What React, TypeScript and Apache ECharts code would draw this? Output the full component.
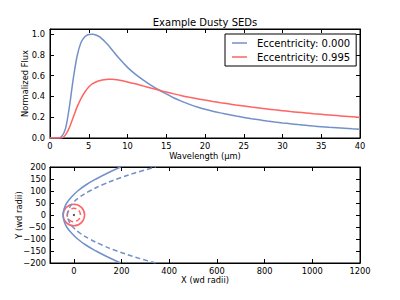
import React, { useEffect, useRef } from "react";
import * as echarts from "echarts";

const wavelength = [0, 0.5, 1, 1.5, 2, 2.5, 3, 3.5, 4, 4.5, 5, 5.5, 6, 6.5, 7, 7.5, 8, 9, 10, 11, 12, 13, 14, 15, 16, 17, 18, 19, 20, 21, 22, 23, 24, 25, 26, 27, 28, 29, 30, 31, 32, 33, 34, 35, 36, 37, 38, 39, 40];
const fluxE0 = [0, 0, 0, 0.015, 0.09, 0.3, 0.57, 0.79, 0.92, 0.975, 0.997, 1.0, 0.99, 0.97, 0.935, 0.895, 0.85, 0.76, 0.68, 0.615, 0.56, 0.51, 0.465, 0.425, 0.385, 0.353, 0.324, 0.298, 0.276, 0.258, 0.242, 0.227, 0.212, 0.198, 0.186, 0.175, 0.164, 0.154, 0.145, 0.137, 0.129, 0.122, 0.115, 0.109, 0.103, 0.098, 0.093, 0.088, 0.084];
const fluxE995 = [0, 0, 0, 0, 0.03, 0.1, 0.2, 0.3, 0.38, 0.443, 0.492, 0.523, 0.542, 0.554, 0.561, 0.565, 0.566, 0.556, 0.54, 0.522, 0.502, 0.482, 0.463, 0.443, 0.425, 0.408, 0.393, 0.379, 0.365, 0.352, 0.34, 0.329, 0.318, 0.308, 0.298, 0.289, 0.28, 0.271, 0.263, 0.255, 0.248, 0.241, 0.234, 0.228, 0.222, 0.216, 0.21, 0.204, 0.198];

const orbitY = [-200, -175, -150, -125, -100, -75, -50, -25, 0, 25, 50, 75, 100, 125, 150, 175, 200];
const orbitSolidX = [196, 142, 93, 50, 16, -10, -30, -41, -45, -41, -30, -10, 16, 50, 93, 142, 196];
const orbitDashedX = [343, 256, 181, 118, 66, 25, -4, -21, -27, -21, -4, 25, 66, 118, 181, 256, 343];
// circles: [centerX, centerY, radius]
const circleSolid = [0, 0, 45];
const circleDashed = [0, 0, 28];

const topYTicks = [0, 0.2, 0.4, 0.6, 0.8, 1.0];
const botXTicks = [0, 200, 400, 600, 800, 1000, 1200];

const BLUE = "#7390c8";
const RED = "#ff6363";
const FONT = "DejaVu Sans";

export default function App() {
  const ref = useRef<HTMLDivElement>(null);
  useEffect(() => {
    if (!ref.current) return;
    const chart = echarts.init(ref.current, null, { renderer: "svg" });
    const tickStyle = { show: true, inside: true, length: 4, lineStyle: { color: "#000", width: 1 } };
    const lineAxis = { show: true, onZero: false, lineStyle: { color: "#000", width: 1 } };
    const lbl = { color: "#000", fontSize: 8.3, fontFamily: FONT };
    const nameStyle = { color: "#000", fontSize: 8.3, fontFamily: FONT };
    const minus = (v: number) => String(v).replace("-", "\u2212");

    const circleItem = (params: any, api: any) => {
      const c = api.coord([api.value(0), api.value(1)]);
      const s = api.size([api.value(2), api.value(2)]);
      const dashed = api.value(3) === 1;
      return {
        type: "ellipse",
        shape: { cx: c[0], cy: c[1], rx: s[0], ry: s[1] },
        style: { fill: "none", stroke: RED, lineWidth: 1.5, lineDash: dashed ? [5, 3] : null },
      };
    };

    chart.setOption({
      animation: false,
      textStyle: { fontFamily: FONT },
      graphic: [
        {
          type: "text",
          x: 205,
          y: 22,
          style: { text: "Example Dusty SEDs", fontSize: 10, fontFamily: FONT, fill: "#000", textAlign: "center", textVerticalAlign: "middle" },
        },
      ],
      legend: {
        data: ["Eccentricity: 0.000", "Eccentricity: 0.995"],
        orient: "vertical",
        left: 225,
        top: 34,
        width: 130,
        padding: [3, 6, 3, 7],
        borderColor: "#000",
        borderWidth: 1,
        backgroundColor: "#fff",
        icon: "rect",
        itemWidth: 15,
        itemHeight: 1.5,
        itemGap: 2,
        textStyle: { fontSize: 10, fontFamily: FONT, color: "#000", lineHeight: 12, padding: [0, 0, 0, 5] },
      },
      grid: [
        { left: 50, top: 29, width: 310, height: 109, show: true, borderColor: "#000", borderWidth: 1 },
        { left: 50, top: 167, width: 310, height: 96, show: true, borderColor: "#000", borderWidth: 1 },
      ],
      xAxis: [
        {
          type: "value", gridIndex: 0, min: 0, max: 40, interval: 5,
          axisLine: lineAxis, axisTick: tickStyle, splitLine: { show: false },
          axisLabel: { ...lbl, margin: 4 },
          name: "Wavelength (\u03bcm)", nameLocation: "middle", nameGap: 14, nameTextStyle: nameStyle, nameMoveOverlap: false,
        },
        {
          type: "value", gridIndex: 0, position: "top", min: 0, max: 40, interval: 5,
          axisLine: lineAxis, axisTick: tickStyle, splitLine: { show: false }, axisLabel: { show: false },
        },
        {
          type: "value", gridIndex: 1, min: -100, max: 1200,
          axisLine: lineAxis, axisTick: { ...tickStyle, customValues: botXTicks }, splitLine: { show: false },
          axisLabel: { ...lbl, margin: 4, customValues: botXTicks, formatter: (v: number) => String(v) },
          name: "X (wd radii)", nameLocation: "middle", nameGap: 13, nameTextStyle: nameStyle, nameMoveOverlap: false,
        },
        {
          type: "value", gridIndex: 1, position: "top", min: -100, max: 1200,
          axisLine: lineAxis, axisTick: { ...tickStyle, customValues: botXTicks }, splitLine: { show: false },
          axisLabel: { show: false, customValues: botXTicks },
        },
      ],
      yAxis: [
        {
          type: "value", gridIndex: 0, min: 0, max: 1.05,
          axisLine: lineAxis, axisTick: { ...tickStyle, customValues: topYTicks }, splitLine: { show: false },
          axisLabel: { ...lbl, margin: 5, customValues: topYTicks, formatter: (v: number) => v.toFixed(1) },
          name: "Normalized Flux", nameLocation: "middle", nameGap: 21, nameTextStyle: nameStyle, nameMoveOverlap: false,
        },
        {
          type: "value", gridIndex: 0, position: "right", min: 0, max: 1.05,
          axisLine: lineAxis, axisTick: { ...tickStyle, customValues: topYTicks }, splitLine: { show: false },
          axisLabel: { show: false, customValues: topYTicks },
        },
        {
          type: "value", gridIndex: 1, min: -200, max: 200, interval: 50,
          axisLine: lineAxis, axisTick: tickStyle, splitLine: { show: false },
          axisLabel: { ...lbl, margin: 4, formatter: minus },
          name: "Y (wd radii)", nameLocation: "middle", nameGap: 27, nameTextStyle: nameStyle, nameMoveOverlap: false,
        },
        {
          type: "value", gridIndex: 1, position: "right", min: -200, max: 200, interval: 50,
          axisLine: lineAxis, axisTick: tickStyle, splitLine: { show: false }, axisLabel: { show: false },
        },
      ],
      series: [
        {
          name: "Eccentricity: 0.000", type: "line", xAxisIndex: 0, yAxisIndex: 0,
          data: wavelength.map((w, i) => [w, fluxE0[i]]), smooth: 0.3, symbol: "none", clip: true,
          lineStyle: { color: BLUE, width: 1.5 }, itemStyle: { color: BLUE },
        },
        {
          name: "Eccentricity: 0.995", type: "line", xAxisIndex: 0, yAxisIndex: 0,
          data: wavelength.map((w, i) => [w, fluxE995[i]]), smooth: 0.3, symbol: "none", clip: true,
          lineStyle: { color: RED, width: 1.5 }, itemStyle: { color: RED },
        },
        {
          name: "Orbit e=0.000", type: "line", xAxisIndex: 2, yAxisIndex: 2,
          data: orbitY.map((y, i) => [orbitSolidX[i], y]), smooth: 0.4, symbol: "none",
          lineStyle: { color: BLUE, width: 1.5 },
        },
        {
          name: "Orbit e=0.000 dashed", type: "line", xAxisIndex: 2, yAxisIndex: 2,
          data: orbitY.map((y, i) => [orbitDashedX[i], y]), smooth: 0.4, symbol: "none",
          lineStyle: { color: BLUE, width: 1.5, type: [5, 3] },
        },
        {
          name: "Dust circles", type: "custom", xAxisIndex: 2, yAxisIndex: 2,
          renderItem: circleItem,
          data: [
            [...circleSolid, 0],
            [...circleDashed, 1],
          ],
          clip: true,
        },
        {
          name: "Star", type: "scatter", xAxisIndex: 2, yAxisIndex: 2,
          data: [[0, 0]], symbolSize: 2, itemStyle: { color: "#000" },
        },
      ],
    });
    return () => chart.dispose();
  }, []);
  return <div ref={ref} style={{ width: 400, height: 300, position: "absolute", left: 0, top: 0 }} />;
}
